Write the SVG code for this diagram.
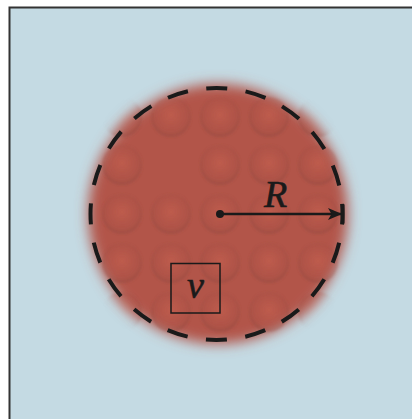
<svg xmlns="http://www.w3.org/2000/svg" width="412" height="419" viewBox="0 0 412 419">
<defs>
<filter id="blur" x="-20%" y="-20%" width="140%" height="140%"><feGaussianBlur stdDeviation="6.5"/></filter>
<filter id="sblur" x="-30%" y="-30%" width="160%" height="160%"><feGaussianBlur stdDeviation="1"/></filter>
<radialGradient id="sph" cx="0.5" cy="0.45" r="0.55">
<stop offset="0" stop-color="#c4604f" stop-opacity="0.7"/>
<stop offset="0.75" stop-color="#ad5247" stop-opacity="0.5"/>
<stop offset="1" stop-color="#8f4840" stop-opacity="0.5"/>
</radialGradient>
<mask id="blobmask"><circle cx="218" cy="214" r="132" fill="#fff" filter="url(#blur)"/></mask>
<marker id="ah" viewBox="0 0 14 12" refX="13" refY="6" markerWidth="14" markerHeight="12" markerUnits="userSpaceOnUse" orient="auto"><path d="M0,0 L14,6 L0,12 L3.5,6 Z" fill="#1a1a1a"/></marker>
</defs>
<style>
.sp{fill:url(#sph);filter:url(#sblur)}
.lab{font-family:"Liberation Serif",serif;font-style:italic;fill:#1a1a1a;stroke:#1a1a1a;stroke-width:0.6}
</style>
<rect x="9.5" y="7.5" width="410" height="420" fill="#c4dae3" stroke="#333" stroke-width="2"/>
<g id="blob">
<circle cx="218" cy="214" r="130" fill="#b2554a" filter="url(#blur)"/>
<g mask="url(#blobmask)">
<circle class="sp" cx="122" cy="117" r="20"/>
<circle class="sp" cx="171" cy="117" r="20"/>
<circle class="sp" cx="220" cy="117" r="20"/>
<circle class="sp" cx="269" cy="117" r="20"/>
<circle class="sp" cx="318" cy="117" r="20"/>
<circle class="sp" cx="122" cy="165" r="20"/>
<circle class="sp" cx="220" cy="165" r="20"/>
<circle class="sp" cx="269" cy="165" r="20"/>
<circle class="sp" cx="318" cy="165" r="20"/>
<circle class="sp" cx="122" cy="214" r="20"/>
<circle class="sp" cx="171" cy="214" r="20"/>
<circle class="sp" cx="220" cy="214" r="20"/>
<circle class="sp" cx="269" cy="214" r="20"/>
<circle class="sp" cx="318" cy="214" r="20"/>
<circle class="sp" cx="122" cy="263" r="20"/>
<circle class="sp" cx="171" cy="263" r="20"/>
<circle class="sp" cx="220" cy="263" r="20"/>
<circle class="sp" cx="269" cy="263" r="20"/>
<circle class="sp" cx="318" cy="263" r="20"/>
<circle class="sp" cx="122" cy="312" r="20"/>
<circle class="sp" cx="171" cy="312" r="20"/>
<circle class="sp" cx="220" cy="312" r="20"/>
<circle class="sp" cx="269" cy="312" r="20"/>
<circle class="sp" cx="318" cy="312" r="20"/>
</g>
</g>
<g id="boundary">
<circle cx="216.5" cy="214" r="126" fill="none" stroke="#1a1a1a" stroke-width="4" stroke-dasharray="21 18.584" stroke-dashoffset="10.5"/>
</g>
<g id="connectors">
<line x1="220" y1="214" x2="341" y2="214" stroke="#1a1a1a" stroke-width="2.4" marker-end="url(#ah)"/>
<line x1="343" y1="204.5" x2="343" y2="223.5" stroke="#1a1a1a" stroke-width="3"/>
</g>
<g id="center"><circle cx="220" cy="214" r="4" fill="#1a1a1a"/></g>
<g id="radius-label"><text class="lab" x="264" y="207" font-size="38">R</text></g>
<g id="volume">
<rect x="171" y="263.5" width="49" height="49.5" fill="none" stroke="#1a1a1a" stroke-width="1.5"/>
<text class="lab" x="195.5" y="298" font-size="38" text-anchor="middle">v</text>
</g>
</svg>
